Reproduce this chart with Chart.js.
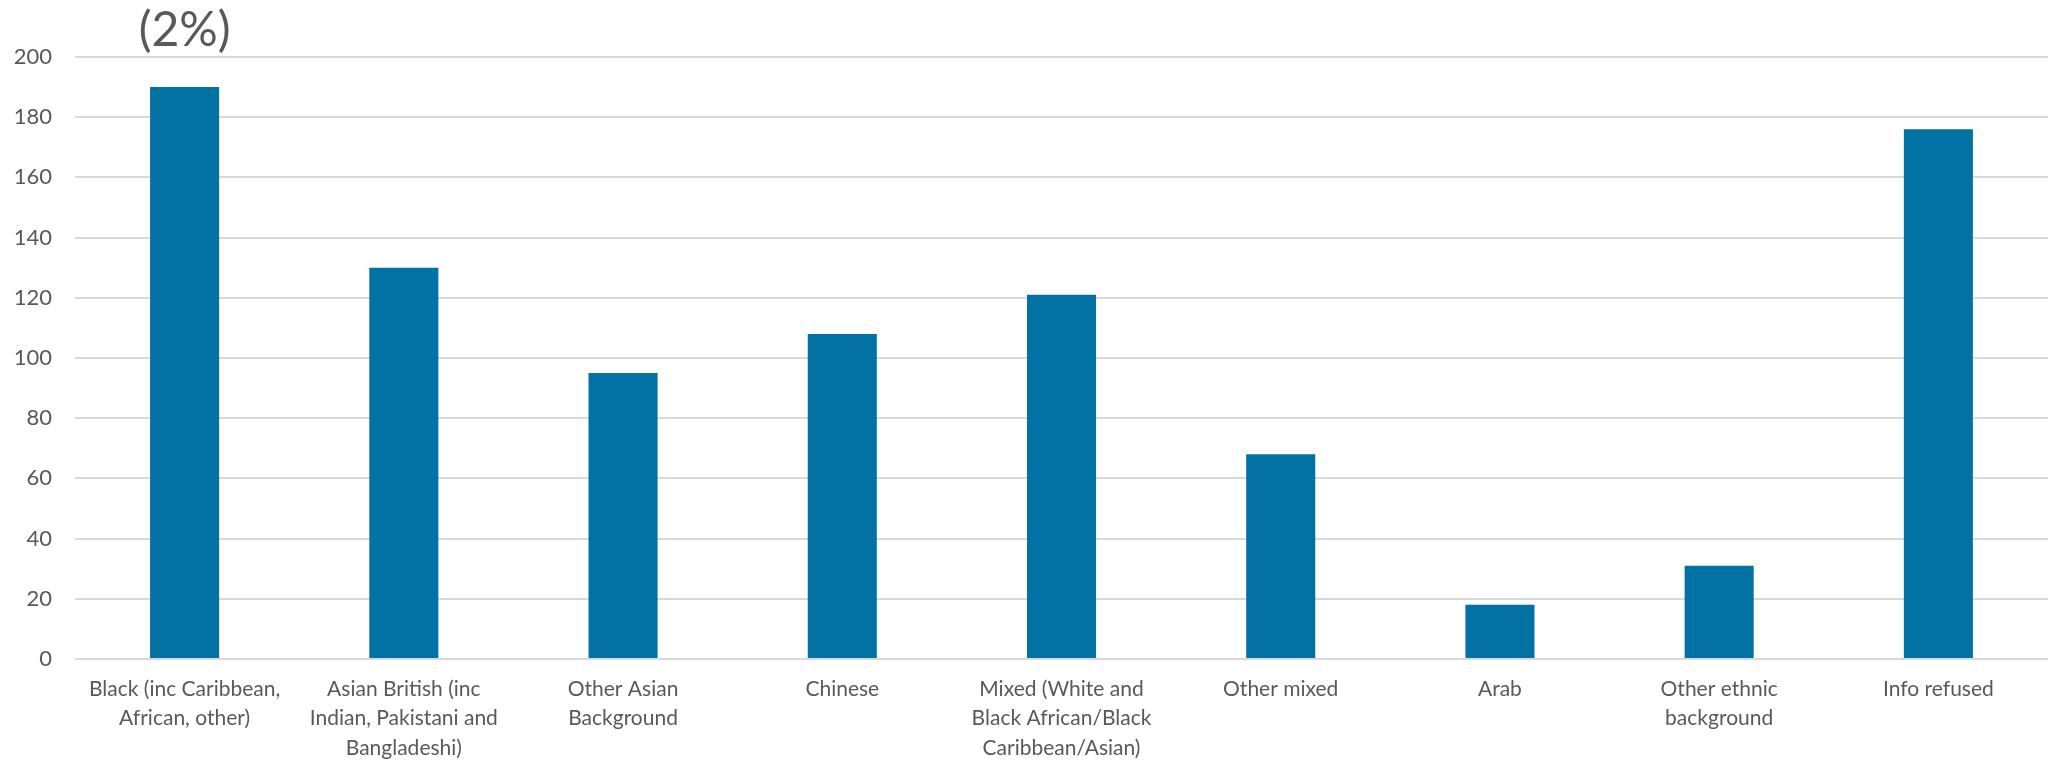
<!DOCTYPE html>
<html>
<head>
<meta charset="utf-8">
<script src="https://cdn.jsdelivr.net/npm/chart.js@4"></script>
<style>
  html, body { margin: 0; padding: 0; background: #fff; }
  #wrap { width: 2057px; height: 763px; }
</style>
</head>
<body>
<div id="wrap"><canvas id="ethnicChart"></canvas></div>
<script>
// categories (wrapped as in the original)
const categories = [
  ['Black (inc Caribbean,', 'African, other)'],
  ['Asian British (inc', 'Indian, Pakistani and', 'Bangladeshi)'],
  ['Other Asian', 'Background'],
  'Chinese',
  ['Mixed (White and', 'Black African/Black', 'Caribbean/Asian)'],
  'Other mixed',
  'Arab',
  ['Other ethnic', 'background'],
  'Info refused'
];
const counts = [190, 130, 95, 108, 121, 68, 18, 31, 176];
const yTicks = [0, 20, 40, 60, 80, 100, 120, 140, 160, 180, 200];
const topNote = '(2%)';

// draws the leftover "(2%)" label above the first bar
const notePlugin = {
  id: 'topNote',
  afterDraw(chart) {
    const c = chart.ctx;
    const x = chart.scales.x.getPixelForValue(0);
    c.save();
    c.font = '48px Lato';
    c.fillStyle = '#595959';
    c.textAlign = 'center';
    c.textBaseline = 'alphabetic';
    c.fillText(topNote, x, 46);
    c.restore();
  }
};

document.addEventListener('DOMContentLoaded', function() {
  const ctx = document.getElementById('ethnicChart');
  new Chart(ctx, {
    type: 'bar',
    data: {
      labels: categories,
      datasets: [{
        data: counts,
        backgroundColor: '#0271A3',
        borderWidth: 0,
        barPercentage: 0.315,
        categoryPercentage: 1
      }]
    },
    options: {
      responsive: true,
      maintainAspectRatio: false,
      animation: false,
      layout: { padding: { top: 57, right: 9, left: 0, bottom: 0 } },
      plugins: {
        legend: { display: false },
        tooltip: { enabled: false }
      },
      scales: {
        x: {
          grid: { display: false, drawTicks: false },
          border: { display: false },
          ticks: {
            color: '#595959',
            font: { family: 'Lato', size: 21, lineHeight: 1.42 },
            padding: 15,
            maxRotation: 0,
            autoSkip: false
          },
          afterFit(scale) { scale.height = 104; }
        },
        y: {
          min: 0,
          max: 200,
          afterBuildTicks(scale) { scale.ticks = yTicks.map(v => ({ value: v })); },
          grid: { color: '#d9d9d9', lineWidth: 2, drawTicks: false },
          border: { display: false },
          ticks: {
            color: '#595959',
            font: { family: 'Lato', size: 22 },
            padding: 23
          },
          afterFit(scale) { scale.width = 75; }
        }
      }
    },
    plugins: [notePlugin]
  });
});
</script>
</body>
</html>
